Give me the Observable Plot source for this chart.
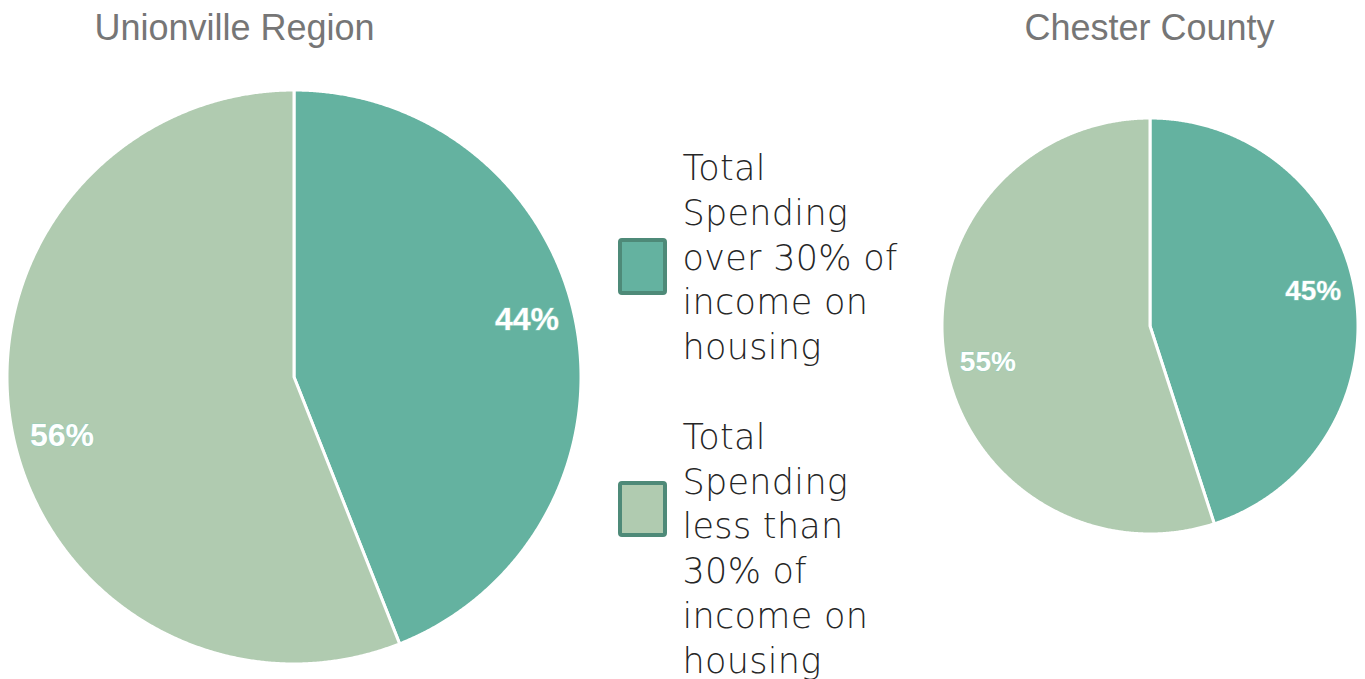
<!DOCTYPE html>
<html><head><meta charset="utf-8">
<script src="https://cdn.jsdelivr.net/npm/d3@7"></script>
<script src="https://cdn.jsdelivr.net/npm/@observablehq/plot@0.6"></script>
<style>body{margin:0;background:#fff}#chart svg{display:block}</style>
</head><body><div id="chart"></div>
<script>
// ---- data ----
const regions = ["Unionville Region", "Chester County"];
const segments = [
  "Total\nSpending\nover 30% of\nincome on\nhousing",
  "Total\nSpending\nless than\n30% of\nincome on\nhousing"
];
const unionvilleShares = [44, 56];
const chesterShares = [45, 55];
const segmentColors = ["#64b2a0", "#b0cbb0"];

// ---- layout (pixels) ----
const W = 1365, H = 679;
const pies = [
  {cx: 294, cy: 377, r: 287, titleX: 234, labelR: 0.835, labelSize: 32},
  {cx: 1150, cy: 326, r: 208, titleX: 1149, labelR: 0.80, labelSize: 28}
];
const labelAngleShift = -3.2 * Math.PI / 180;
const legendBoxes = [
  {x1: 620, x2: 665, y1: 240, y2: 293, textY: 255},
  {x1: 620, x2: 665, y1: 483, y2: 535, textY: 546}
];
const legendTextX = 682;

const shares = [unionvilleShares, chesterShares];
const wedges = [], labels = [], titles = [];
regions.forEach((region, i) => {
  const L = pies[i];
  titles.push({region, x: L.titleX, y: 28});
  const arcs = d3.pie().sort(null)(shares[i]);
  arcs.forEach((a, j) => {
    const n = Math.max(2, Math.ceil((a.endAngle - a.startAngle) / 0.005));
    for (let k = 0; k <= n; k++) {
      const t = a.startAngle + (a.endAngle - a.startAngle) * k / n;
      wedges.push({key: region + j, segment: segments[j],
        x: L.cx + L.r * Math.sin(t), y: L.cy - L.r * Math.cos(t), cx: L.cx, cy: L.cy});
    }
    const m = (a.startAngle + a.endAngle) / 2 + labelAngleShift;
    labels.push({x: L.cx + L.labelR * L.r * Math.sin(m), y: L.cy - L.labelR * L.r * Math.cos(m),
      text: shares[i][j] + "%", size: L.labelSize});
  });
});
const legend = segments.map((s, j) => ({segment: s, ...legendBoxes[j]}));

const labelStyle = {x: "x", y: "y", text: "text", fill: "white", fontWeight: "bold",
  fontFamily: "Liberation Sans, Arial, sans-serif", stroke: "#8ccfbf", strokeWidth: 1.5, strokeOpacity: 0.6};

const chart = Plot.plot({
  width: W, height: H,
  margin: 0,
  x: {type: "identity", axis: null},
  y: {type: "identity", axis: null},
  color: {domain: segments, range: segmentColors},
  marks: [
    Plot.area(wedges, {x1: "x", y1: "y", x2: "cx", y2: "cy", z: "key", fill: "segment",
      stroke: "white", strokeWidth: 3, strokeLinejoin: "round"}),
    Plot.text(labels.filter(d => d.size === pies[0].labelSize), {...labelStyle, fontSize: pies[0].labelSize}),
    Plot.text(labels.filter(d => d.size === pies[1].labelSize), {...labelStyle, fontSize: pies[1].labelSize}),
    Plot.text(titles, {x: "x", y: "y", text: "region", fill: "#767676",
      fontSize: 36, fontFamily: "Liberation Sans, Arial, sans-serif"}),
    Plot.rect(legend, {x1: "x1", x2: "x2", y1: "y1", y2: "y2", fill: "segment",
      stroke: "#4e8a78", strokeWidth: 4, rx: 2}),
    Plot.text(legend, {x: legendTextX, y: "textY", text: "segment", textAnchor: "start",
      lineAnchor: "middle", lineHeight: 1.277, fontSize: 35, fontWeight: 200,
      fontFamily: "DejaVu Sans, sans-serif", fill: "#262626"})
  ]
});
d3.select(chart).selectAll("tspan").each(function() {
  this.style.letterSpacing = "0.3px";
});
document.getElementById("chart").appendChild(chart);
</script>
</body></html>
